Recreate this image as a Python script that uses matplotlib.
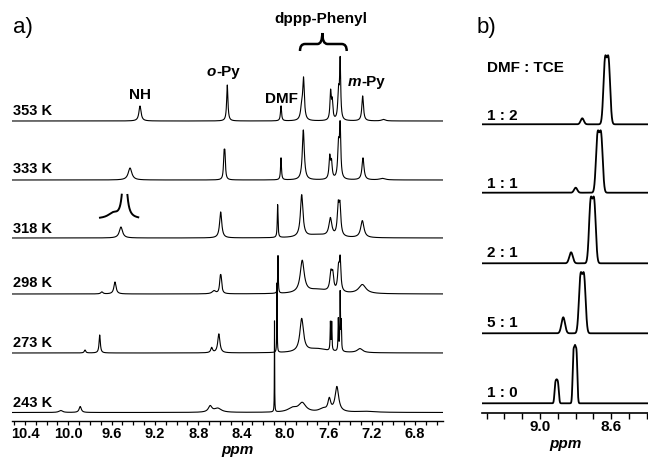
import matplotlib
matplotlib.use('Agg')
import matplotlib.pyplot as plt
from matplotlib.path import Path
from matplotlib.patches import PathPatch
import numpy as np

plt.rcParams['font.family'] = ['Liberation Sans', 'DejaVu Sans']

# ---- panel a: peak tables (ppm, height in px, half width in ppm) ----
temps = ['353 K', '333 K', '318 K', '298 K', '273 K', '243 K']

t353_ppm = [9.338, 8.532, 8.036, 7.845, 7.828, 7.578, 7.563, 7.505, 7.490, 7.282, 7.09]
t353_amp = [15, 36, 15, 12, 40, 28, 18, 28, 58, 25, 1.5]
t353_hw = [0.012, 0.007, 0.006, 0.012, 0.009, 0.007, 0.007, 0.008, 0.006, 0.009, 0.02]

t333_ppm = [9.43, 8.562, 8.554, 8.036, 7.83, 7.586, 7.57, 7.505, 7.49, 7.279, 7.10]
t333_amp = [12, 22, 22, 22, 50, 22, 16, 33, 50, 22, 1.5]
t333_hw = [0.02, 0.006, 0.006, 0.005, 0.011, 0.008, 0.008, 0.009, 0.007, 0.011, 0.03]

t318_ppm = [9.514, 8.593, 8.067, 7.845, 7.58, 7.508, 7.492, 7.285, 7.70]
t318_amp = [11, 26, 33, 42, 18, 28, 28, 17, 3]
t318_hw = [0.018, 0.012, 0.004, 0.014, 0.016, 0.01, 0.01, 0.018, 0.12]

t298_ppm = [9.69, 9.569, 8.655, 8.597, 8.589, 8.064, 7.84, 7.575, 7.558, 7.505, 7.49, 7.285, 7.70]
t298_amp = [2, 12, 3, 12, 12, 38, 32, 18, 15, 22, 30, 9, 4]
t298_hw = [0.012, 0.012, 0.02, 0.008, 0.008, 0.003, 0.022, 0.012, 0.01, 0.01, 0.008, 0.04, 0.12]

t273_ppm = [9.846, 9.71, 8.676, 8.61, 8.073, 7.845, 7.58, 7.568, 7.507, 7.49, 7.48, 7.307, 7.70]
t273_amp = [3, 18, 5, 19, 70, 33, 28, 28, 32, 58, 28, 4, 4]
t273_hw = [0.008, 0.007, 0.01, 0.012, 0.002, 0.02, 0.003, 0.003, 0.003, 0.003, 0.003, 0.03, 0.12]

t243_ppm = [10.07, 9.89, 8.69, 8.62, 8.096, 7.93, 7.84, 7.65, 7.59, 7.52, 7.25]
t243_amp = [2, 6, 6, 4, 91, 4, 9, 3, 12, 25, 1]
t243_hw = [0.02, 0.012, 0.02, 0.04, 0.0015, 0.05, 0.04, 0.04, 0.015, 0.02, 0.1]

# baselines of the stacked traces (px from the axis line)
base_a = [300, 241, 183, 127, 68, 8.5]

# magnified NH peak drawn above the 318 K trace
inset_ppm = [9.480, 9.587]
inset_amp = [70, 5]
inset_hw = [0.0183, 0.055]

# ---- panel b: DMF : TCE series (ppm, height px, sigma ppm) ----
ratios = ['1 : 2', '1 : 1', '2 : 1', '5 : 1', '1 : 0']
r12_ppm = [8.762, 8.634, 8.614]
r12_amp = [6, 62, 62]
r12_sd = [0.009, 0.009, 0.009]
r11_ppm = [8.799, 8.676, 8.656]
r11_amp = [5, 56, 56]
r11_sd = [0.009, 0.009, 0.009]
r21_ppm = [8.825, 8.715, 8.695]
r21_amp = [11, 60, 60]
r21_sd = [0.01, 0.009, 0.009]
r51_ppm = [8.869, 8.772, 8.752]
r51_amp = [16, 55, 55]
r51_sd = [0.01, 0.009, 0.009]
r10_ppm = [8.914, 8.906, 8.898, 8.812, 8.803, 8.794]
r10_amp = [17, 17, 17, 46, 46, 46]
r10_sd = [0.0045, 0.0045, 0.0045, 0.0045, 0.0045, 0.0045]
base_b = [288.4, 220, 149.4, 79.4, 9.4]


def lorentz(x, ppm, amp, hw):
    y = np.zeros_like(x)
    for p, a, w in zip(ppm, amp, hw):
        y += a * w**2 / ((x - p)**2 + w**2)
    return y


def gauss(x, ppm, amp, sd):
    y = np.zeros_like(x)
    for p, a, s in zip(ppm, amp, sd):
        y += a * np.exp(-(x - p)**2 / (2 * s**2))
    return y


W, H = 648, 457
fig = plt.figure(figsize=(W / 100, H / 100), dpi=100)


def fx(x):
    return x / W


def fy(y):
    return 1 - y / H


# ---------------- panel a ----------------
ax_a = fig.add_axes([fx(12.3), fy(421), (442.7 - 12.3) / W, 421 / H])
ax_a.set_xlim(10.517, 6.543)
ax_a.set_ylim(0, 421)
x_a = np.linspace(10.517, 6.543, 8000)

traces_a = [(t353_ppm, t353_amp, t353_hw), (t333_ppm, t333_amp, t333_hw),
            (t318_ppm, t318_amp, t318_hw), (t298_ppm, t298_amp, t298_hw),
            (t273_ppm, t273_amp, t273_hw), (t243_ppm, t243_amp, t243_hw)]
for (pp, aa, ww), b in zip(traces_a, base_a):
    ax_a.plot(x_a, b + lorentz(x_a, pp, aa, ww), color='k', lw=0.8)

x_in = np.linspace(9.7075, 9.354, 400)
y_in = lorentz(x_in, inset_ppm, inset_amp, inset_hw)
y_in[y_in > 25] = np.nan
ax_a.plot(x_in, 202 + y_in, color='k', lw=1.4)

for s in ['top', 'left', 'right']:
    ax_a.spines[s].set_visible(False)
ax_a.spines['bottom'].set_linewidth(1.0)
ax_a.set_yticks([])
ax_a.set_xticks(np.arange(10.4, 6.7, -0.4))
ax_a.set_xticklabels(['%.1f' % v for v in np.arange(10.4, 6.7, -0.4)])
ax_a.set_xticks(np.arange(10.5, 6.5, -0.1), minor=True)
ax_a.tick_params(axis='x', which='both', direction='out', length=3, width=0.9, pad=1.5)
ax_a.tick_params(axis='x', which='major', labelsize=10.5)
for lab in ax_a.get_xticklabels():
    lab.set_fontweight('bold')

# ---------------- panel b ----------------
ax_b = fig.add_axes([fx(481.7), fy(412.7), (648 - 481.7) / W, 412.7 / H])
ax_b.set_xlim(9.328, 8.392)
ax_b.set_ylim(0, 412.7)
x_b = np.linspace(9.328, 8.392, 4000)
traces_b = [(r12_ppm, r12_amp, r12_sd), (r11_ppm, r11_amp, r11_sd),
            (r21_ppm, r21_amp, r21_sd), (r51_ppm, r51_amp, r51_sd),
            (r10_ppm, r10_amp, r10_sd)]
for (pp, aa, ss), b in zip(traces_b, base_b):
    ax_b.plot(x_b, b + gauss(x_b, pp, aa, ss), color='k', lw=1.3)

for s in ['top', 'left', 'right']:
    ax_b.spines[s].set_visible(False)
ax_b.spines['bottom'].set_linewidth(1.2)
ax_b.set_yticks([])
ax_b.set_xticks([9.0, 8.6])
ax_b.set_xticklabels(['9.0', '8.6'])
ax_b.set_xticks(np.arange(9.3, 8.35, -0.1), minor=True)
ax_b.tick_params(axis='x', which='both', direction='out', length=4, width=1.0, pad=1.5)
ax_b.tick_params(axis='x', which='major', labelsize=11)
for lab in ax_b.get_xticklabels():
    lab.set_fontweight('bold')

# ---------------- text ----------------
fig.text(fx(13), fy(33), 'a)', fontsize=16, ha='left', va='baseline')
fig.text(fx(477), fy(33), 'b)', fontsize=16, ha='left', va='baseline')

lab_y = [115, 173.3, 233.3, 286.7, 346.7, 406.7]
for t, yy in zip(temps, lab_y):
    fig.text(fx(13), fy(yy), t, fontsize=10.5, fontweight='bold', ha='left', va='baseline')

fig.text(fx(321), fy(23), 'dppp-Phenyl', fontsize=11, fontweight='bold', ha='center', va='baseline')
fig.text(fx(140), fy(99), 'NH', fontsize=11, fontweight='bold', ha='center', va='baseline')
fig.text(fx(216), fy(76), 'o', fontsize=11, fontweight='bold', style='italic', ha='right', va='baseline')
fig.text(fx(216), fy(76), '-Py', fontsize=11, fontweight='bold', ha='left', va='baseline')
fig.text(fx(281), fy(103), 'DMF', fontsize=11, fontweight='bold', ha='center', va='baseline')
fig.text(fx(361), fy(86), 'm', fontsize=11, fontweight='bold', style='italic', ha='right', va='baseline')
fig.text(fx(361), fy(86), '-Py', fontsize=11, fontweight='bold', ha='left', va='baseline')
fig.text(fx(237), fy(454), 'ppm', fontsize=11, fontweight='bold', style='italic', ha='center', va='baseline')

fig.text(fx(487), fy(72), 'DMF : TCE', fontsize=11, fontweight='bold', ha='left', va='baseline')
lab_yb = [120, 188.3, 256.7, 327.3, 397.3]
for r, yy in zip(ratios, lab_yb):
    fig.text(fx(487), fy(yy), r, fontsize=11, fontweight='bold', ha='left', va='baseline')
fig.text(fx(565), fy(448), 'ppm', fontsize=11, fontweight='bold', style='italic', ha='center', va='baseline')

# curly brace over the phenyl signals
pts = [(300, 51), (300, 44), (305, 44), (317.5, 44), (322.3, 44), (322.3, 33),
       (322.3, 44), (327.5, 44), (341.7, 44), (346.7, 44), (346.7, 51)]
codes = [Path.MOVETO, Path.CURVE3, Path.CURVE3, Path.LINETO, Path.CURVE3, Path.CURVE3,
         Path.CURVE3, Path.CURVE3, Path.LINETO, Path.CURVE3, Path.CURVE3]
brace = Path([(fx(x), fy(y)) for x, y in pts], codes)
fig.patches.append(PathPatch(brace, transform=fig.transFigure, fill=False, lw=1.8,
                             edgecolor='k', capstyle='butt'))

fig.savefig('out.png', dpi=100)
